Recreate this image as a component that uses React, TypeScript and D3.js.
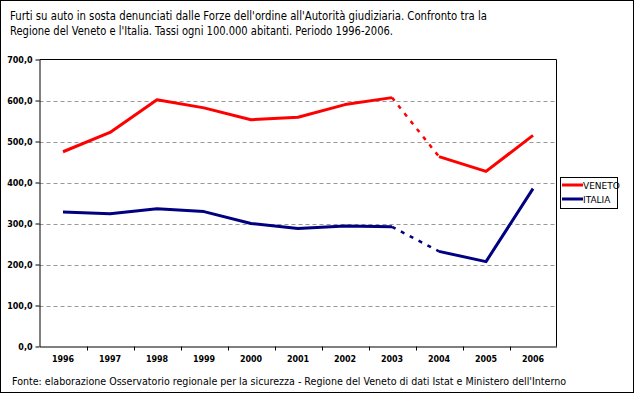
import * as d3 from "d3";
import { useEffect, useRef } from "react";

const years = ["1996", "1997", "1998", "1999", "2000", "2001", "2002", "2003", "2004", "2005", "2006"];
const veneto = [475, 522, 602, 582, 553, 559, 590, 607, 463, 427, 515];
const italia = [328, 324, 336, 329, 300, 288, 294, 292, 232, 207, 385];
const yTicks = [0, 100, 200, 300, 400, 500, 600, 700];
const seriesNames = ["VENETO", "ITALIA"];
const seriesColors = ["#ff0000", "#000080"];
// index of the last point drawn solid; the next segment is dashed
const breakAt = 7;

const titleLines = [
  "Furti su auto in sosta denunciati dalle Forze dell'ordine all'Autorità giudiziaria. Confronto tra la",
  "Regione del Veneto e l'Italia. Tassi ogni 100.000 abitanti. Periodo 1996-2006.",
];
const source =
  "Fonte: elaborazione Osservatorio regionale per la sicurezza - Regione del Veneto di dati Istat e Ministero dell'Interno";

const W = 635;
const H = 394;
const plot = { left: 39.5, right: 556.5, top: 59.5, bottom: 346.5 };

const App = () => {
  const ref = useRef<SVGSVGElement>(null);

  useEffect(() => {
    const svg = d3.select(ref.current);
    svg.selectAll("*").remove();

    const font = "'DejaVu Sans', Verdana, sans-serif";

    const x = d3.scaleBand().domain(years).range([plot.left, plot.right]);
    const y = d3.scaleLinear().domain([0, 700]).range([plot.bottom, plot.top]);

    // outer frame
    svg.append("rect")
      .attr("x", 0.5).attr("y", 0.5)
      .attr("width", W - 2).attr("height", H - 2)
      .attr("fill", "#fff").attr("stroke", "#000");

    // title
    titleLines.forEach((t, i) => {
      svg.append("text")
        .attr("x", 10).attr("y", 20 + i * 15)
        .attr("font-family", font).attr("font-size", 12)
        .attr("textLength", i === 0 ? 477 : 383)
        .attr("lengthAdjust", "spacingAndGlyphs")
        .text(t);
    });

    // grid
    svg.append("g")
      .selectAll("line")
      .data(yTicks.filter((d) => d > 0 && d < 700))
      .join("line")
      .attr("x1", plot.left).attr("x2", plot.right)
      .attr("y1", (d) => Math.round(y(d)) + 0.5).attr("y2", (d) => Math.round(y(d)) + 0.5)
      .attr("stroke", "#999").attr("stroke-dasharray", "4,3");

    // plot frame (top/right)
    svg.append("path")
      .attr("d", `M${plot.left},${plot.top}H${plot.right}V${plot.bottom}`)
      .attr("fill", "none").attr("stroke", "#000");

    const yAxis = d3.axisLeft(y).tickValues(yTicks).tickSize(4).tickSizeOuter(0)
      .tickFormat((d) => d3.format(".1f")(d as number).replace(".", ","));
    const gy = svg.append("g")
      .attr("transform", `translate(${plot.left},0)`)
      .call(yAxis);
    gy.selectAll("text")
      .attr("font-family", font).attr("font-size", 8).attr("font-weight", "bold")
      .attr("x", -7);

    const xAxis = d3.axisBottom(x).tickSize(0).tickSizeOuter(0);
    const gx = svg.append("g")
      .attr("transform", `translate(0,${plot.bottom})`)
      .call(xAxis);
    gx.selectAll("text")
      .attr("font-family", font).attr("font-size", 8).attr("font-weight", "bold")
      .attr("y", 10);
    // ticks between categories
    gx.selectAll("line.sep")
      .data(years.slice(1))
      .join("line")
      .attr("class", "sep")
      .attr("x1", (d) => Math.round(x(d)!) + 0.5).attr("x2", (d) => Math.round(x(d)!) + 0.5)
      .attr("y1", 0).attr("y2", 4)
      .attr("stroke", "#000");
    svg.selectAll(".domain").attr("stroke", "#000");

    const cx = (i: number) => x(years[i])! + x.bandwidth() / 2;
    const line = d3.line<number>().x((_, i) => cx(i)).y((d) => y(d));

    [veneto, italia].forEach((vals, s) => {
      const solidA = vals.slice(0, breakAt + 1);
      svg.append("path")
        .attr("d", line(solidA))
        .attr("fill", "none").attr("stroke", seriesColors[s])
        .attr("stroke-width", 3).attr("stroke-linejoin", "round");
      svg.append("path")
        .attr("d", `M${cx(breakAt)},${y(vals[breakAt])}L${cx(breakAt + 1)},${y(vals[breakAt + 1])}`)
        .attr("fill", "none").attr("stroke", seriesColors[s])
        .attr("stroke-width", 2.5).attr("stroke-dasharray", "4,6");
      const rest = vals.slice(breakAt + 1);
      svg.append("path")
        .attr("d", d3.line<number>().x((_, i) => cx(i + breakAt + 1)).y((d) => y(d))(rest))
        .attr("fill", "none").attr("stroke", seriesColors[s])
        .attr("stroke-width", 3).attr("stroke-linejoin", "round");
    });

    // legend
    const lg = svg.append("g");
    lg.append("rect")
      .attr("x", 560.5).attr("y", 177.5).attr("width", 57).attr("height", 31)
      .attr("fill", "#fff").attr("stroke", "#000");
    seriesNames.forEach((n, i) => {
      const ly = 185 + i * 14;
      lg.append("line")
        .attr("x1", 562).attr("x2", 583).attr("y1", ly).attr("y2", ly)
        .attr("stroke", seriesColors[i]).attr("stroke-width", 3);
      lg.append("text")
        .attr("x", 583).attr("y", ly + 4)
        .attr("font-family", font).attr("font-size", 9)
        .text(n);
    });

    // source
    svg.append("text")
      .attr("x", 12).attr("y", 385)
      .attr("font-family", font).attr("font-size", 10)
      .attr("textLength", 554).attr("lengthAdjust", "spacingAndGlyphs")
      .text(source);

    // bottom rule above source? frame only
  }, []);

  return (
    <svg
      ref={ref}
      width={W}
      height={H}
      style={{ position: "absolute", left: 0, top: 0 }}
    />
  );
};

export default App;
